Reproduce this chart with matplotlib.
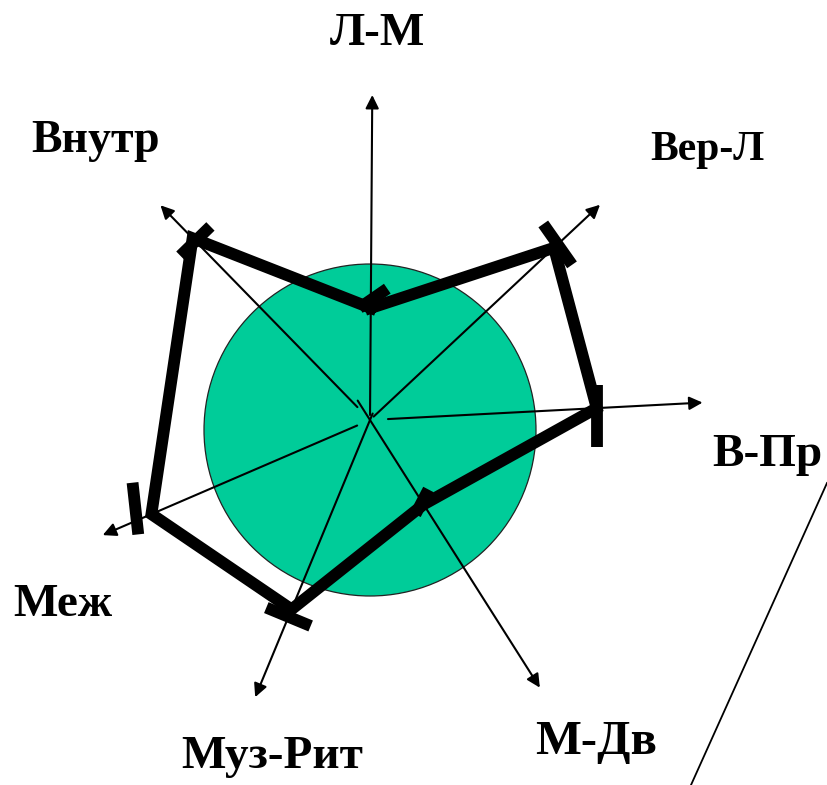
import numpy as np
import matplotlib
matplotlib.use("Agg")
import matplotlib.pyplot as plt
from matplotlib.patches import Circle

# Canvas (pixel-like units, y pointing down)
W, H = 827, 785
DPI = 100
CENTER = (370, 420)
CIRCLE_CENTER = (370, 430)
CIRCLE_R = 166
FILL_COLOR = "#00CC99"

# Axes of the diagram
AXIS_NAMES = ["Л-М", "Вер-Л", "В-Пр", "М-Дв", "Муз-Рит", "Меж", "Внутр"]
AXIS_ANGLES = [89.6, 43.1, 3.0, -57.6, -112.5, 203.3, 134.3]   # degrees
AXIS_LENGTHS = [325, 315, 333, 317, 300, 291, 300]
AXIS_STARTS = [5, 5, 18, -23, -7, 14, 18]

# Profile values along each axis
VALUES = [112, 252, 227, 100, 205, 238, 254]

# Tick bars at the profile points
TICK_LEN = [34, 50, 62, 28, 48, 52, 42]
TICK_TILT = [35, -8, -3, 30, 0, -17, 0]
TICK_DR = [8, 5, 0, -3, 8, 16, -4]
TICK_SHIFT = [3, 0, 8, 0, 0, 12, 0]

# Label positions (pixels) and sizes
LABEL_POS = [(377, 34), (707, 150), (767, 455), (596, 742), (272, 757), (63, 605), (95, 141)]
LABEL_SIZE = [34, 30, 34, 35, 34, 34, 33]


def polar(r, ang):
    a = np.deg2rad(ang)
    return CENTER[0] + r * np.cos(a), CENTER[1] - r * np.sin(a)


def main():
    fig = plt.figure(figsize=(W / DPI, H / DPI), dpi=DPI)
    ax = fig.add_axes([0, 0, 1, 1])
    ax.set_xlim(0, W)
    ax.set_ylim(H, 0)
    ax.axis("off")

    # green disc
    ax.add_patch(Circle(CIRCLE_CENTER, CIRCLE_R, facecolor=FILL_COLOR,
                        edgecolor="#222222", linewidth=0.9, zorder=1))

    # axis arrows
    for ang, length, start in zip(AXIS_ANGLES, AXIS_LENGTHS, AXIS_STARTS):
        x0, y0 = polar(start, ang)
        x1, y1 = polar(length, ang)
        ax.annotate("", xy=(x1, y1), xytext=(x0, y0),
                    arrowprops=dict(arrowstyle="-|>", color="black", lw=1.5,
                                    mutation_scale=20, shrinkA=0, shrinkB=0),
                    zorder=2)

    # profile polygon
    pts = [polar(v, a) for v, a in zip(VALUES, AXIS_ANGLES)]
    xs = [p[0] for p in pts] + [pts[0][0]]
    ys = [p[1] for p in pts] + [pts[0][1]]
    ax.plot(xs, ys, color="black", lw=8.5, solid_joinstyle="miter", zorder=3)

    # tick bars
    for v, a, L, tilt, dr, sh in zip(VALUES, AXIS_ANGLES, TICK_LEN, TICK_TILT,
                                     TICK_DR, TICK_SHIFT):
        cx, cy = polar(v + dr, a)
        t = np.deg2rad(a - 90 + tilt)
        ux, uy = np.cos(t), -np.sin(t)
        cx, cy = cx + sh * ux, cy + sh * uy
        dx, dy = L / 2 * ux, L / 2 * uy
        ax.plot([cx - dx, cx + dx], [cy - dy, cy + dy], color="black",
                lw=8.5, solid_capstyle="butt", zorder=4)

    # labels
    for name, (x, y), fs in zip(AXIS_NAMES, LABEL_POS, LABEL_SIZE):
        ax.text(x, y, name, fontsize=fs, fontweight="bold",
                family="Liberation Serif", ha="center", va="center")

    # stray line at lower right
    ax.plot([827, 691], [483, 785], color="black", lw=1.3, zorder=2)

    fig.savefig("out.png", dpi=DPI, facecolor="white")
    plt.close(fig)


if __name__ == "__main__":
    main()
